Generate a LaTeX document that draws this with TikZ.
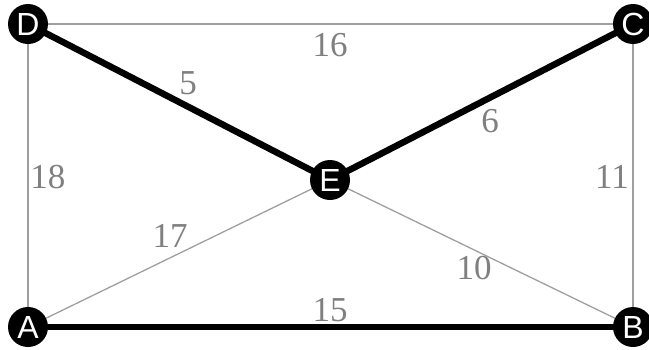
\documentclass[tikz,border=0pt]{standalone}
\usepackage{fontspec}
\usetikzlibrary{backgrounds}
\setmainfont{Liberation Serif}
\newfontfamily\vertexfont{Liberation Sans}
\begin{document}
\begin{tikzpicture}[x=1pt, y=-1pt,
    vertex/.style={circle, fill=black, inner sep=0pt, minimum size=40pt, text=white, font=\vertexfont\fontsize{32}{32}\selectfont},
    light/.style={draw=gray!75, line width=1.3pt},
    heavy/.style={draw=black, line width=6.5pt},
    weight/.style={text=gray, font=\fontsize{35}{35}\selectfont}]
        \useasboundingbox (0,0) rectangle (649,349);

        % Vertices
        \node[vertex] (D) at (28,24) {D};
        \node[vertex] (C) at (633,24) {C};
        \node[vertex] (E) at (330,180) {E};
        \node[vertex] (A) at (28,327) {A};
        \node[vertex] (B) at (633,327) {B};

        \begin{scope}[on background layer]
        % Edges not in the tree
        \draw[light] (D.center) -- (C.center);
        \draw[light] (D.center) -- (A.center);
        \draw[light] (C.center) -- (B.center);
        \draw[light] (A.center) -- (E.center);
        \draw[light] (E.center) -- (B.center);

        % Tree edges
        \draw[heavy] (D.center) -- (E.center);
        \draw[heavy] (E.center) -- (C.center);
        \draw[heavy] (A.center) -- (B.center);
        \end{scope}

        % Weights
        \node[weight] (wDC) at (330,45) {16};
        \node[weight] (wDE) at (188,83) {5};
        \node[weight] (wEC) at (490,121) {6};
        \node[weight] (wDA) at (48,177) {18};
        \node[weight] (wCB) at (612,177) {11};
        \node[weight] (wAE) at (170,236) {17};
        \node[weight] (wEB) at (474,268) {10};
        \node[weight] (wAB) at (330,310) {15};
    \end{tikzpicture}
\end{document}
